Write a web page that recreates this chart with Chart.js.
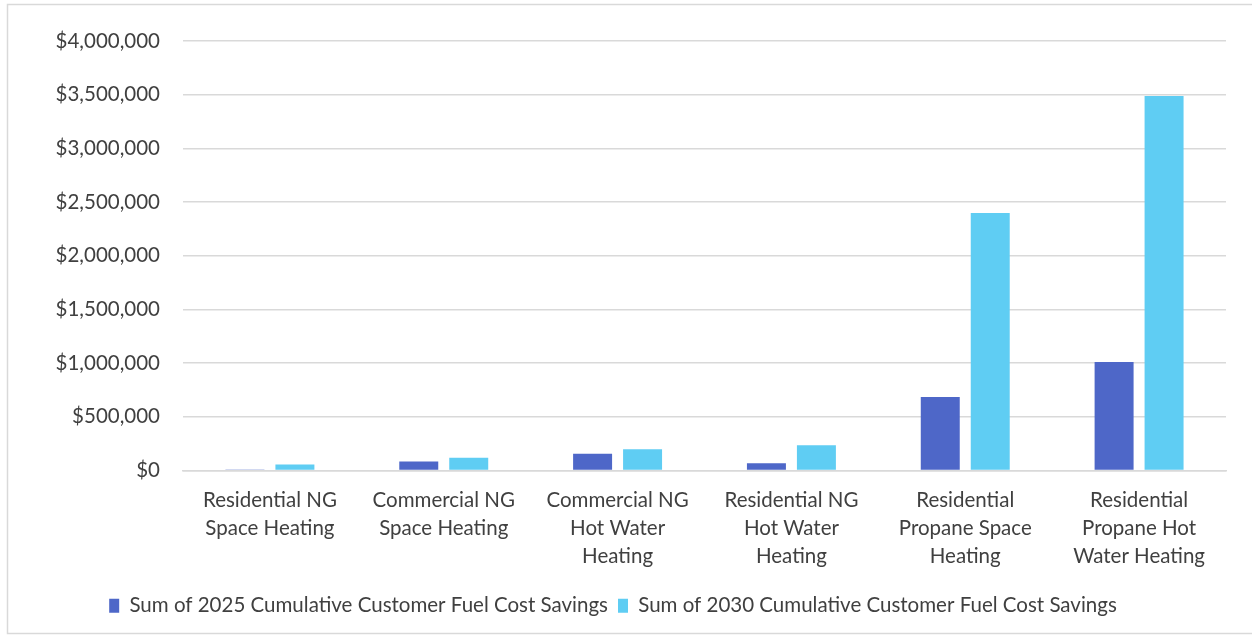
<!DOCTYPE html>
<html>
<head>
<meta charset="utf-8">
<script src="https://cdn.jsdelivr.net/npm/chart.js@4.4.0/dist/chart.umd.min.js"></script>
<style>
  html, body { margin: 0; padding: 0; background: #fff; }
  #wrap { position: relative; width: 1252px; height: 638px; }
</style>
</head>
<body>
<div id="wrap"><canvas id="savingsChart" width="1252" height="638"></canvas></div>
<script>
const categories = [
  ["Residential NG", "Space Heating"],
  ["Commercial NG", "Space Heating"],
  ["Commercial NG", "Hot Water", "Heating"],
  ["Residential NG", "Hot Water", "Heating"],
  ["Residential", "Propane Space", "Heating"],
  ["Residential", "Propane Hot", "Water Heating"]
];
const savings2025 = [10000, 84000, 156000, 68000, 685000, 1010000];
const savings2030 = [56000, 118000, 199000, 236000, 2397000, 3488000];
const seriesNames = [
  "Sum of 2025 Cumulative Customer Fuel Cost Savings",
  "Sum of 2030 Cumulative Customer Fuel Cost Savings"
];

const textColor = "#404040";
const gridColor = "#d9d9d9";
const fontFamily = "Lato, 'Open Sans', sans-serif";

// light frame around the whole chart
const frame = {
  id: "frame",
  beforeDraw(chart) {
    const c = chart.ctx;
    c.save();
    c.strokeStyle = gridColor;
    c.lineWidth = 1.5;
    c.beginPath();
    c.moveTo(1260, 4.5);
    c.lineTo(7.5, 4.5);
    c.lineTo(7.5, 633.5);
    c.lineTo(1260, 633.5);
    c.stroke();
    c.restore();
  }
};

const ctx = document.getElementById("savingsChart").getContext("2d");
new Chart(ctx, {
  type: "bar",
  data: {
    labels: categories,
    datasets: [
      {
        label: seriesNames[0],
        data: savings2025,
        backgroundColor: "#4e67c8",
        categoryPercentage: 0.575,
        barPercentage: 0.78
      },
      {
        label: seriesNames[1],
        data: savings2030,
        backgroundColor: "#5fcdf3",
        categoryPercentage: 0.575,
        barPercentage: 0.78
      }
    ]
  },
  options: {
    responsive: false,
    animation: false,
    layout: { padding: { top: 41, right: 26, bottom: 12, left: 0 } },
    plugins: {
      tooltip: { enabled: false },
      legend: {
        position: "bottom",
        labels: {
          color: textColor,
          font: { family: fontFamily, size: 20.5 },
          boxWidth: 10,
          boxHeight: 14,
          padding: 10
        }
      }
    },
    scales: {
      x: {
        grid: { display: false, drawTicks: false },
        border: { display: true, color: gridColor, width: 1.5 },
        ticks: {
          color: textColor,
          font: { family: fontFamily, size: 20.5, lineHeight: 1.37 },
          padding: 16,
          maxRotation: 0,
          autoSkip: false
        },
        afterFit(scale) { scale.height = 115; }
      },
      y: {
        min: 0,
        max: 4000000,
        grid: { color: gridColor, lineWidth: 1.5, drawTicks: false },
        border: { display: false },
        ticks: {
          stepSize: 500000,
          color: textColor,
          font: { family: fontFamily, size: 20.5 },
          padding: 23,
          callback: (v) => "$" + Number(v).toLocaleString("en-US")
        },
        afterFit(scale) { scale.width = 183; }
      }
    }
  },
  plugins: [frame]
});
</script>
</body>
</html>
